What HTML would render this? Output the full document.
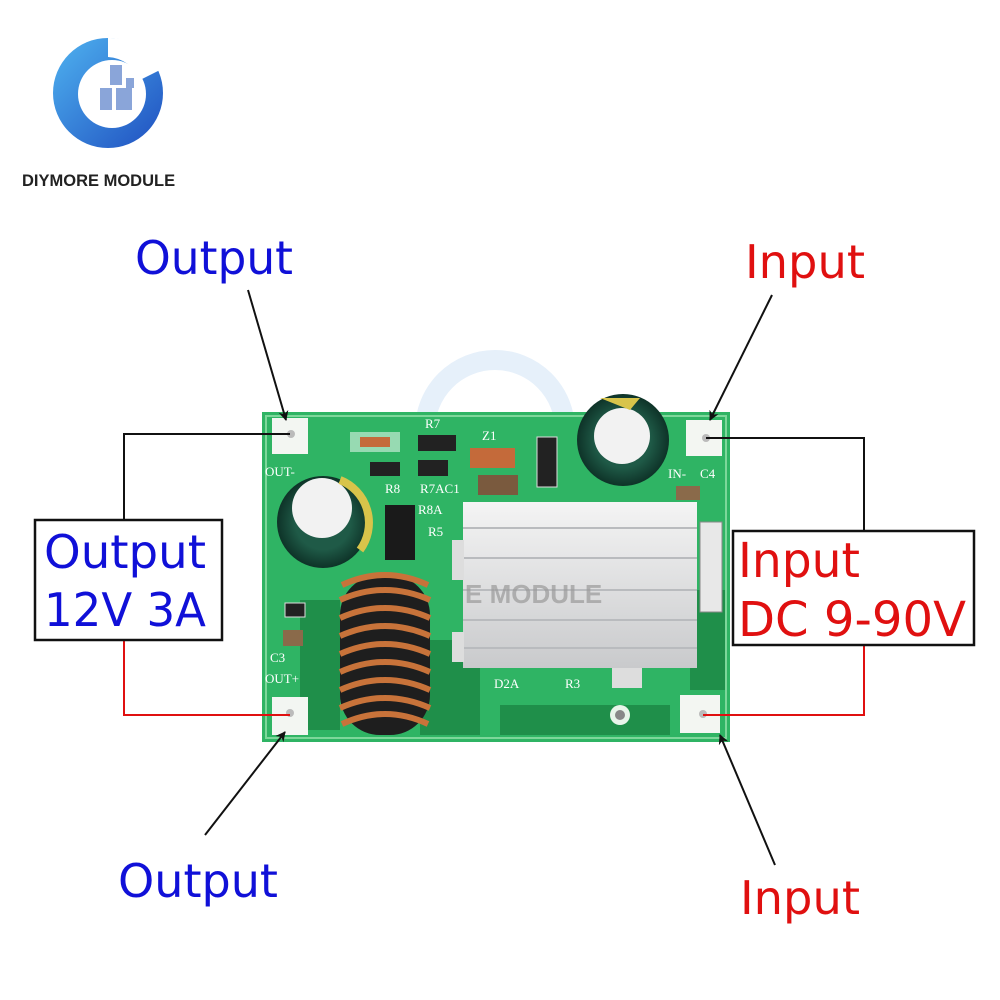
<!DOCTYPE html>
<html><head><meta charset="utf-8"><style>
html,body{margin:0;padding:0;background:#fff;width:1000px;height:1000px;overflow:hidden}
svg{display:block}
</style></head><body>
<svg width="1000" height="1000" viewBox="0 0 1000 1000" xmlns="http://www.w3.org/2000/svg" font-family="Liberation Sans, DejaVu Sans, sans-serif">
<defs>
<linearGradient id="lg" x1="0" y1="0" x2="1" y2="1"><stop offset="0" stop-color="#4fb3f0"/><stop offset="1" stop-color="#1f4fc0"/></linearGradient>
<linearGradient id="hs" x1="0" y1="0" x2="0" y2="1"><stop offset="0" stop-color="#f4f4f4"/><stop offset="1" stop-color="#c9cacc"/></linearGradient>
<radialGradient id="cap" cx="0.5" cy="0.5" r="0.5"><stop offset="0.6" stop-color="#1f5a47"/><stop offset="1" stop-color="#0e3328"/></radialGradient>
<marker id="ar" markerWidth="10" markerHeight="10" refX="9" refY="5" orient="auto" markerUnits="userSpaceOnUse"><path d="M0,0 L10,5 L0,10 L3,5z" fill="#111"/></marker>
</defs>
<!-- logo -->
<circle cx="108" cy="93" r="55" fill="url(#lg)"/>
<circle cx="112" cy="94" r="34" fill="#fff"/>
<path d="M108,38 A55,55 0 0 1 160,70 L140,80 A36,36 0 0 0 108,57z" fill="#fff"/>
<g fill="#6d8fd0" opacity="0.8"><rect x="110" y="65" width="12" height="20"/><rect x="100" y="88" width="12" height="22"/><rect x="116" y="88" width="16" height="22"/><rect x="126" y="78" width="8" height="10"/></g>
<text x="22" y="186" font-size="16.5" font-weight="bold" fill="#222">DIYMORE MODULE</text>
<!-- faint watermark -->
<circle cx="495" cy="430" r="70" fill="none" stroke="#e6f0fa" stroke-width="20"/>
<!-- PCB -->
<rect x="262" y="412" width="468" height="330" fill="#2fb464"/>
<rect x="266" y="416" width="460" height="322" fill="none" stroke="#7dd79a" stroke-width="2"/>
<g fill="#1f8f4a">
<rect x="300" y="600" width="40" height="130"/><rect x="420" y="640" width="60" height="95"/><rect x="500" y="705" width="170" height="30"/><rect x="690" y="590" width="35" height="100"/>
</g>
<g fill="#e8f5ea"><circle cx="620" cy="715" r="10"/></g>
<circle cx="620" cy="715" r="5" fill="#888"/>
<!-- pads -->
<rect x="272" y="418" width="36" height="36" fill="#f3f6f2"/>
<rect x="272" y="697" width="36" height="38" fill="#f3f6f2"/>
<rect x="686" y="420" width="36" height="36" fill="#f3f6f2"/>
<rect x="680" y="695" width="40" height="38" fill="#f3f6f2"/>
<g fill="#bbb"><circle cx="291" cy="434" r="4"/><circle cx="290" cy="713" r="4"/><circle cx="706" cy="438" r="4"/><circle cx="703" cy="714" r="4"/></g>
<!-- silkscreen labels -->
<g fill="#fff" font-family="Liberation Serif, serif" font-size="13">
<text x="265" y="476">OUT-</text><text x="270" y="662">C3</text><text x="265" y="683">OUT+</text>
<text x="425" y="428">R7</text><text x="482" y="440">Z1</text><text x="385" y="493">R8</text><text x="420" y="493">R7AC1</text>
<text x="418" y="514">R8A</text><text x="428" y="536">R5</text><text x="494" y="688">D2A</text><text x="565" y="688">R3</text>
<text x="668" y="478">IN-</text><text x="700" y="478">C4</text>
</g>
<!-- small SMD parts -->
<g>
<rect x="350" y="432" width="50" height="20" fill="#fff" opacity="0.5"/><rect x="360" y="437" width="30" height="10" fill="#c46a3a"/>
<rect x="418" y="435" width="38" height="16" fill="#222"/><rect x="370" y="462" width="30" height="14" fill="#222"/>
<rect x="418" y="460" width="30" height="16" fill="#222"/><rect x="470" y="448" width="45" height="20" fill="#c46a3a"/>
<rect x="478" y="475" width="40" height="20" fill="#7a5a3e"/><rect x="537" y="437" width="20" height="50" fill="#222" stroke="#ddd"/>
<rect x="385" y="505" width="30" height="55" fill="#1a1a1a"/>
<rect x="285" y="603" width="20" height="14" fill="#222" stroke="#ddd"/><rect x="283" y="630" width="20" height="16" fill="#8a6a4a"/>
<rect x="676" y="486" width="24" height="14" fill="#8a6a4a"/>
<rect x="612" y="668" width="30" height="20" fill="#ddd"/>
<rect x="700" y="522" width="22" height="90" fill="#e8e8e8" stroke="#888"/>
</g>
<!-- capacitors -->
<circle cx="623" cy="440" r="46" fill="url(#cap)"/><circle cx="622" cy="436" r="28" fill="#f2f2f2"/>
<path d="M600,398 L640,398 L630,410z" fill="#d8c44a"/>
<circle cx="323" cy="522" r="46" fill="url(#cap)"/><circle cx="322" cy="508" r="30" fill="#f2f2f2"/>
<path d="M340,480 A46,46 0 0 1 360,550" fill="none" stroke="#d8c44a" stroke-width="8"/>
<!-- heatsink -->
<rect x="463" y="502" width="234" height="166" fill="url(#hs)"/>
<g stroke="#b9bbbe" stroke-width="2"><line x1="463" y1="528" x2="697" y2="528"/><line x1="463" y1="558" x2="697" y2="558"/><line x1="463" y1="590" x2="697" y2="590"/><line x1="463" y1="620" x2="697" y2="620"/><line x1="463" y1="648" x2="697" y2="648"/></g>
<rect x="452" y="540" width="12" height="40" fill="#ddd"/><rect x="452" y="632" width="12" height="30" fill="#ddd"/>
<text x="465" y="603" font-size="26" font-weight="bold" fill="#9a9a9a" opacity="0.7">E MODULE</text>
<!-- inductor -->
<rect x="340" y="575" width="90" height="160" rx="40" fill="#1e1e1e"/>
<g stroke="#c8733a" stroke-width="6" fill="none">
<path d="M342,585 Q385,565 428,585"/><path d="M340,600 Q385,580 430,600"/><path d="M340,618 Q385,598 430,618"/><path d="M340,636 Q385,616 430,636"/><path d="M340,654 Q385,634 430,654"/><path d="M340,672 Q385,652 430,672"/><path d="M340,690 Q385,670 430,690"/><path d="M340,708 Q385,688 430,708"/><path d="M342,724 Q385,704 428,724"/>
</g>
<!-- connector lines -->
<polyline points="290,434 124,434 124,520" fill="none" stroke="#111" stroke-width="2"/>
<polyline points="124,640 124,715 290,715" fill="none" stroke="#e01010" stroke-width="2"/>
<polyline points="706,438 864,438 864,531" fill="none" stroke="#111" stroke-width="2"/>
<polyline points="864,645 864,715 703,715" fill="none" stroke="#e01010" stroke-width="2"/>
<!-- boxes -->
<rect x="35" y="520" width="187" height="120" fill="#fff" stroke="#111" stroke-width="2.5"/>
<rect x="733" y="531" width="241" height="114" fill="#fff" stroke="#111" stroke-width="2.5"/>
<g font-family="DejaVu Sans, Liberation Sans, sans-serif">
<text x="44" y="568" font-size="46" fill="#1010d8" textLength="162" lengthAdjust="spacingAndGlyphs">Output</text>
<text x="44" y="626" font-size="46" fill="#1010d8" textLength="162" lengthAdjust="spacingAndGlyphs">12V 3A</text>
<text x="738" y="577" font-size="48" fill="#e01010" textLength="122" lengthAdjust="spacingAndGlyphs">Input</text>
<text x="738" y="636" font-size="48" fill="#e01010" textLength="228" lengthAdjust="spacingAndGlyphs">DC 9-90V</text>
<text x="135" y="274" font-size="46" fill="#1010d8" textLength="158" lengthAdjust="spacingAndGlyphs">Output</text>
<text x="745" y="278" font-size="46" fill="#e01010" textLength="120" lengthAdjust="spacingAndGlyphs">Input</text>
<text x="118" y="897" font-size="46" fill="#1010d8" textLength="160" lengthAdjust="spacingAndGlyphs">Output</text>
<text x="740" y="914" font-size="46" fill="#e01010" textLength="120" lengthAdjust="spacingAndGlyphs">Input</text>
</g>
<!-- arrows -->
<g stroke="#111" stroke-width="2" marker-end="url(#ar)">
<line x1="248" y1="290" x2="286" y2="420"/>
<line x1="772" y1="295" x2="710" y2="420"/>
<line x1="205" y1="835" x2="285" y2="732"/>
<line x1="775" y1="865" x2="720" y2="735"/>
</g>
</svg>
</body></html>
